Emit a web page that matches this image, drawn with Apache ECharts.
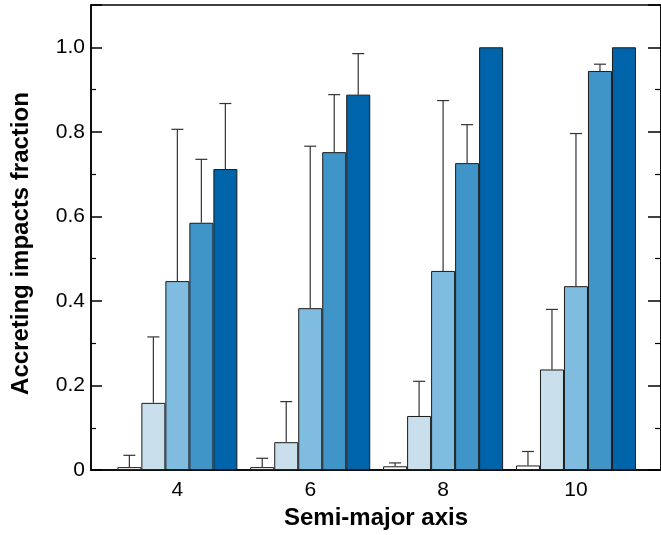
<!DOCTYPE html>
<html>
<head>
<meta charset="utf-8">
<script src="https://cdn.jsdelivr.net/npm/echarts@6/dist/echarts.min.js"></script>
<style>
    html, body { margin: 0; padding: 0; background: #fff; }
    #chart { width: 661px; height: 535px; }
</style>
</head>
<body>
<div id="chart"></div>
<script>
// semi-major axis values of the four groups
const axisValues = [4, 6, 8, 10]
const xTickLabels = [4, 6, 8, 10]
const yTickLabels = [0, 0.2, 0.4, 0.6, 0.8, 1.0]

// bar heights, one array per shade (light -> dark)
const fracA = [0.007, 0.007, 0.009, 0.011]
const fracB = [0.159, 0.066, 0.128, 0.238]
const fracC = [0.447, 0.383, 0.471, 0.435]
const fracD = [0.585, 0.752, 0.726, 0.944]
const fracE = [0.712, 0.888, 1.0, 1.0]

// upper end of the error bars
const errA = [0.035, 0.028, 0.017, 0.044]
const errB = [0.315, 0.162, 0.210, 0.380]
const errC = [0.806, 0.766, 0.874, 0.796]
const errD = [0.735, 0.888, 0.817, 0.960]
const errE = [0.867, 0.985, 1.0, 1.0]

const colors = ['#ffffff', '#c9dfec', '#80bce0', '#3f94c8', '#0064aa']
const BAR_W = 24

const allFrac = [fracA, fracB, fracC, fracD, fracE]
const allErr = [errA, errB, errC, errD, errE]

const barSeries = allFrac.map((vals, k) => ({
    type: 'bar',
    barWidth: BAR_W,
    barGap: '0%',
    data: vals.map((v, i) => [axisValues[i], v]),
    itemStyle: {
        color: colors[k],
        borderColor: '#1a1a1a',
        borderWidth: 1
    },
    silent: true
}))

// error bar rows: [x, low, high, shade index]
const errRows = []
allErr.forEach((vals, k) => {
    vals.forEach((v, i) => {
        if (v > allFrac[k][i]) errRows.push([axisValues[i], allFrac[k][i], v, k])
    })
})

const errSeries = {
    type: 'custom',
    z: 5,
    encode: { x: 0, y: [1, 2] },
    data: errRows,
    renderItem: (params, api) => {
        const x = api.value(0)
        const lo = api.coord([x, api.value(1)])
        const hi = api.coord([x, api.value(2)])
        const dx = (api.value(3) - 2) * BAR_W
        const cx = lo[0] + dx
        const st = { stroke: '#333', lineWidth: 1.2 }
        return {
            type: 'group',
            children: [
                { type: 'line', shape: { x1: cx, y1: lo[1], x2: cx, y2: hi[1] }, style: st },
                { type: 'line', shape: { x1: cx - 6, y1: hi[1], x2: cx + 6, y2: hi[1] }, style: st }
            ]
        }
    }
}

const font = 'Liberation Sans, Arial, Helvetica, sans-serif'

const option = {
    backgroundColor: '#fff',
    animation: false,
    grid: {
        left: 91, right: -1, top: 5, bottom: 60,
        show: true, borderColor: '#000', borderWidth: 1.5, backgroundColor: 'transparent'
    },
    xAxis: {
        type: 'value',
        min: 2.7,
        max: 11.28,
        name: 'Semi-major axis',
        nameLocation: 'middle',
        nameGap: 35,
        nameTextStyle: { fontFamily: font, fontWeight: 'bold', fontSize: 24, color: '#000' },
        splitLine: { show: false },
        axisLine: { show: true, lineStyle: { color: '#000', width: 1.5 } },
        axisTick: { show: false },
        axisLabel: {
            customValues: xTickLabels,
            margin: 10,
            fontFamily: font, fontSize: 21, color: '#000'
        }
    },
    yAxis: [{
        type: 'value',
        min: 0,
        max: 1.1,
        interval: 0.2,
        name: 'Accreting impacts fraction',
        nameLocation: 'middle',
        nameGap: 58,
        nameTextStyle: {
            fontFamily: font, fontWeight: 'bold', fontSize: 24, color: '#000',
            padding: [0, 12, 0, 0]
        },
        splitLine: { show: false },
        axisLine: { show: true, lineStyle: { color: '#000', width: 1.5 } },
        axisTick: { show: true, inside: true, length: 11, lineStyle: { color: '#000', width: 1.5 } },
        minorTick: { show: true, splitNumber: 2, length: 5, lineStyle: { color: '#000', width: 1.2 } },
        axisLabel: {
            margin: 6,
            showMaxLabel: false,
            fontFamily: font, fontSize: 21, color: '#000',
            formatter: v => {
                const hit = yTickLabels.find(t => Math.abs(t - v) < 1e-6)
                if (hit === undefined) return ''
                return hit === 0 ? '0' : hit.toFixed(1)
            }
        }
    }, {
        type: 'value',
        position: 'right',
        min: 0,
        max: 1.1,
        interval: 0.2,
        splitLine: { show: false },
        axisLine: { show: true, lineStyle: { color: '#000', width: 1.5 } },
        axisTick: { show: true, inside: true, length: 13, lineStyle: { color: '#000', width: 1.5 } },
        minorTick: { show: true, splitNumber: 2, length: 6, lineStyle: { color: '#000', width: 1.2 } },
        axisLabel: { show: false }
    }],
    series: [...barSeries, errSeries]
}

const chart = echarts.init(document.getElementById('chart'))
chart.setOption(option)
</script>
</body>
</html>
